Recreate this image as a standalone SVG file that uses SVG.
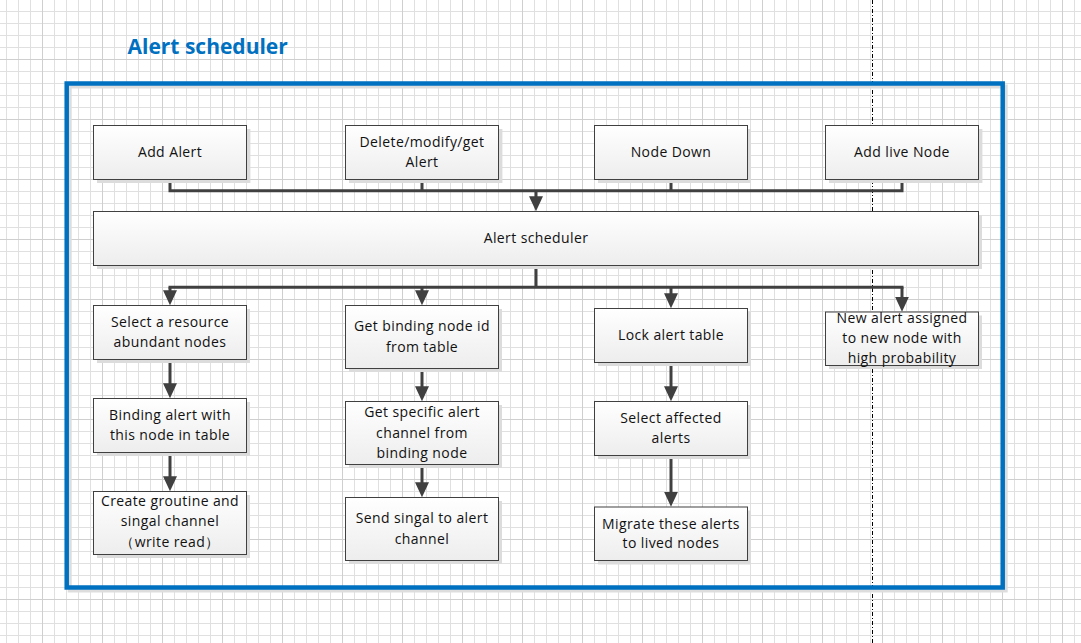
<svg xmlns="http://www.w3.org/2000/svg" width="1081" height="643" viewBox="0 0 1081 643">
  <defs>
    <pattern id="grid" x="42" y="59" width="60" height="60" patternUnits="userSpaceOnUse">
      <rect x="12" y="0" width="1" height="60" fill="#e0e0e0"/>
      <rect x="24" y="0" width="1" height="60" fill="#e0e0e0"/>
      <rect x="36" y="0" width="1" height="60" fill="#e0e0e0"/>
      <rect x="48" y="0" width="1" height="60" fill="#e0e0e0"/>
      <rect x="0" y="12" width="60" height="1" fill="#e0e0e0"/>
      <rect x="0" y="24" width="60" height="1" fill="#e0e0e0"/>
      <rect x="0" y="36" width="60" height="1" fill="#e0e0e0"/>
      <rect x="0" y="48" width="60" height="1" fill="#e0e0e0"/>
      <rect x="0" y="0" width="1" height="60" fill="#cfcfcf"/>
      <rect x="0" y="0" width="60" height="1" fill="#cfcfcf"/>
    </pattern>
    <linearGradient id="boxfill" x1="0" y1="0" x2="0" y2="1">
      <stop offset="0" stop-color="#ffffff"/>
      <stop offset="1" stop-color="#ededed"/>
    </linearGradient>
    <marker id="arrow" viewBox="0 0 15 14" refX="9" refY="7" markerWidth="15" markerHeight="14" markerUnits="userSpaceOnUse" orient="auto">
      <path d="M0,0 L15,7 L0,14 z" fill="#404040"/>
    </marker>
    <style>
      .box { fill: url(#boxfill); stroke: #404040; stroke-width: 1; }
      .shadow { fill: #dcdcdc; }
      .lbl { font-family: "Open Sans", "Liberation Sans", sans-serif; font-size: 14px; letter-spacing: 0.4px; fill: #111111; text-anchor: middle; }
      .conn { fill: none; stroke: #404040; stroke-width: 3; }
      .title { font-family: "Open Sans", "Liberation Sans", sans-serif; font-size: 21px; font-weight: bold; fill: #0070c0; }
    </style>
  </defs>

  <rect x="0" y="0" width="1081" height="643" fill="#ffffff"/>
  <rect x="0" y="0" width="1081" height="643" fill="url(#grid)"/>

  <line x1="872.5" y1="0" x2="872.5" y2="643" stroke="#000000" stroke-width="1" stroke-dasharray="4 2 1 2"/>

  <g id="frame">
    <rect x="69.7" y="86.5" width="936" height="504" fill="none" stroke="#dddddd" stroke-width="4"/>
    <rect x="66.7" y="83.5" width="936" height="504" fill="none" stroke="#0070c0" stroke-width="4.5"/>
  </g>

  <text class="title" x="127.5" y="54">Alert scheduler</text>

  <g id="connectors">
    <path class="conn" d="M170,179.3 V190.7 M422,179.3 V190.7 M671,179.3 V190.7 M902,179.3 V190.7 M168.5,190.7 H903.5"/>
    <path class="conn" d="M536,190.7 V205.3" marker-end="url(#arrow)"/>
    <path class="conn" d="M536,265.3 V287.3 M168.5,287.3 H903.5"/>
    <path class="conn" d="M170,287.3 V299.3" marker-end="url(#arrow)"/>
    <path class="conn" d="M422,287.3 V299.3" marker-end="url(#arrow)"/>
    <path class="conn" d="M671,287.3 V302.3" marker-end="url(#arrow)"/>
    <path class="conn" d="M902,287.3 V305.7" marker-end="url(#arrow)"/>
    <path class="conn" d="M170,359.3 V392.3" marker-end="url(#arrow)"/>
    <path class="conn" d="M170,452.3 V485.3" marker-end="url(#arrow)"/>
    <path class="conn" d="M422,368.3 V395.3" marker-end="url(#arrow)"/>
    <path class="conn" d="M422,464.3 V491.3" marker-end="url(#arrow)"/>
    <path class="conn" d="M671,362.3 V395.3" marker-end="url(#arrow)"/>
    <path class="conn" d="M671,455.3 V500.7" marker-end="url(#arrow)"/>
  </g>

  <g id="add-alert">
    <rect class="shadow" x="97" y="129" width="153.4" height="54"/>
    <rect class="box" x="93.5" y="125.5" width="153" height="54"/>
    <text class="lbl" x="170" y="157">Add Alert</text>
  </g>
  <g id="delete-modify-get">
    <rect class="shadow" x="349" y="129" width="153.4" height="54"/>
    <rect class="box" x="345.5" y="125.5" width="153" height="54"/>
    <text class="lbl" x="422" y="147">Delete/modify/get</text>
    <text class="lbl" x="422" y="167">Alert</text>
  </g>
  <g id="node-down">
    <rect class="shadow" x="598" y="129" width="153" height="54"/>
    <rect class="box" x="594.5" y="125.5" width="153" height="54"/>
    <text class="lbl" x="671" y="157">Node Down</text>
  </g>
  <g id="add-live-node">
    <rect class="shadow" x="829" y="129" width="153.4" height="54"/>
    <rect class="box" x="825.5" y="125.5" width="153" height="54"/>
    <text class="lbl" x="902" y="157">Add live Node</text>
  </g>

  <g id="alert-scheduler">
    <rect class="shadow" x="97" y="215" width="885" height="54"/>
    <rect class="box" x="93.5" y="211.5" width="885" height="54"/>
    <text class="lbl" x="536" y="242.5">Alert scheduler</text>
  </g>

  <g id="select-resource">
    <rect class="shadow" x="97" y="309" width="153" height="54"/>
    <rect class="box" x="93.5" y="305.5" width="153" height="54"/>
    <text class="lbl" x="170" y="327">Select a resource</text>
    <text class="lbl" x="170" y="347">abundant nodes</text>
  </g>
  <g id="binding-alert">
    <rect class="shadow" x="97" y="402" width="153" height="54"/>
    <rect class="box" x="93.5" y="398.5" width="153" height="54"/>
    <text class="lbl" x="170" y="420">Binding alert with</text>
    <text class="lbl" x="170" y="440">this node in table</text>
  </g>
  <g id="create-goroutine">
    <rect class="shadow" x="97" y="495" width="153" height="63"/>
    <rect class="box" x="93.5" y="491.5" width="153" height="63"/>
    <text class="lbl" x="170" y="506">Create groutine and</text>
    <text class="lbl" x="170" y="526">singal channel</text>
    <text class="lbl" x="170" y="547">（write read）</text>
  </g>

  <g id="get-binding-node">
    <rect class="shadow" x="349" y="309" width="153" height="63"/>
    <rect class="box" x="345.5" y="305.5" width="153" height="63"/>
    <text class="lbl" x="422" y="331">Get binding node id</text>
    <text class="lbl" x="422" y="352">from table</text>
  </g>
  <g id="get-specific-channel">
    <rect class="shadow" x="349" y="405" width="153" height="63"/>
    <rect class="box" x="345.5" y="401.5" width="153" height="63"/>
    <text class="lbl" x="422" y="417">Get specific alert</text>
    <text class="lbl" x="422" y="438">channel from</text>
    <text class="lbl" x="422" y="458">binding node</text>
  </g>
  <g id="send-signal">
    <rect class="shadow" x="349" y="501" width="153" height="63"/>
    <rect class="box" x="345.5" y="497.5" width="153" height="63"/>
    <text class="lbl" x="422" y="523">Send singal to alert</text>
    <text class="lbl" x="422" y="544">channel</text>
  </g>

  <g id="lock-alert-table">
    <rect class="shadow" x="598" y="312" width="153" height="54"/>
    <rect class="box" x="594.5" y="308.5" width="153" height="54"/>
    <text class="lbl" x="671" y="340">Lock alert table</text>
  </g>
  <g id="select-affected">
    <rect class="shadow" x="598" y="405" width="153" height="54"/>
    <rect class="box" x="594.5" y="401.5" width="153" height="54"/>
    <text class="lbl" x="671" y="423">Select affected</text>
    <text class="lbl" x="671" y="443">alerts</text>
  </g>
  <g id="migrate-alerts">
    <rect class="shadow" x="598" y="510.5" width="153" height="54"/>
    <rect class="box" x="594.5" y="507" width="153" height="53.5"/>
    <text class="lbl" x="671" y="528.5">Migrate these alerts</text>
    <text class="lbl" x="671" y="548">to lived nodes</text>
  </g>

  <g id="new-alert-assigned">
    <rect class="shadow" x="829" y="315.5" width="153" height="53.5"/>
    <rect class="box" x="825.5" y="312" width="153" height="53.5"/>
    <text class="lbl" x="902" y="323">New alert assigned</text>
    <text class="lbl" x="902" y="343">to new node with</text>
    <text class="lbl" x="902" y="363">high probability</text>
  </g>
</svg>
